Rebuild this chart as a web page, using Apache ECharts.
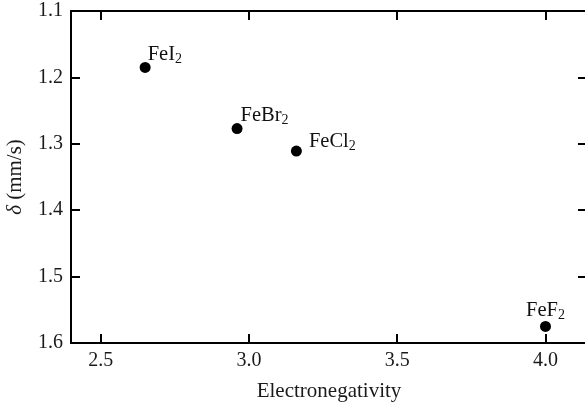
<!DOCTYPE html>
<html><head><meta charset="utf-8">
<script src="https://cdn.jsdelivr.net/npm/echarts@6/dist/echarts.min.js"></script>
<style>html,body{margin:0;padding:0;background:#fff}#c{width:585px;height:410px}</style>
</head><body><div id="c"></div>
<script>
const names = ['FeI', 'FeBr', 'FeCl', 'FeF'];
const electroneg = [2.65, 2.96, 3.16, 4.0];
const delta = [1.185, 1.277, 1.311, 1.575];
const xTicks = [2.5, 3.0, 3.5, 4.0];
const yTicks = [1.1, 1.2, 1.3, 1.4, 1.5, 1.6];

const labelPos = [[8, -19], [9, -19], [18, -15], 'top'];

const font = '"Liberation Serif", "DejaVu Serif", serif';
const chart = echarts.init(document.getElementById('c'));
const axisLine = {show: true, lineStyle: {color: '#000', width: 2}};
const axisTick = {show: true, inside: true, length: 9, lineStyle: {color: '#000', width: 2}};
chart.setOption({
  animation: false,
  grid: {left: 71, top: 11, width: 516, height: 332, containLabel: false, outerBoundsMode: 'none'},
  xAxis: [{
    type: 'value', min: 2.4, max: 4.14, interval: 0.5,
    axisLine, axisTick: Object.assign({customValues: xTicks}, axisTick), splitLine: {show: false},
    axisLabel: {customValues: xTicks, fontFamily: font, fontSize: 20, color: '#1a1a1a', margin: 8, formatter: v => v.toFixed(1)},
    name: 'Electronegativity', nameLocation: 'middle', nameGap: 38,
    nameTextStyle: {fontFamily: font, fontSize: 21, color: '#1a1a1a'}
  }, {
    type: 'value', position: 'top', min: 2.4, max: 4.14,
    axisLine, axisTick: Object.assign({customValues: xTicks}, axisTick), axisLabel: {show: false}, splitLine: {show: false}
  }],
  yAxis: [{
    type: 'value', inverse: true, min: 1.1, max: 1.6, interval: 0.1,
    axisLine, axisTick, splitLine: {show: false},
    axisLabel: {fontFamily: font, fontSize: 20, color: '#1a1a1a', margin: 8, formatter: v => v.toFixed(1)},
    name: '{i|δ} (mm/s)', nameLocation: 'middle', nameGap: 45, nameRotate: 90,
    nameTextStyle: {fontFamily: font, fontSize: 21, color: '#1a1a1a', rich: {i: {fontFamily: font, fontSize: 21, fontStyle: 'italic', color: '#1a1a1a'}}}
  }, {
    type: 'value', position: 'right', inverse: true, min: 1.1, max: 1.6, interval: 0.1,
    axisLine, axisTick, axisLabel: {show: false}, splitLine: {show: false}
  }],
  series: [{
    type: 'scatter', symbol: 'circle', symbolSize: 11,
    itemStyle: {color: '#000', opacity: 1},
    data: electroneg.map((x, i) => ({value: [x, delta[i]], label: {position: labelPos[i]}})),
    label: {
      show: true, distance: -1,
      formatter: p => '{a|' + names[p.dataIndex] + '}{s|2}',
      rich: {
        a: {fontFamily: font, fontSize: 20.5, color: '#111'},
        s: {fontFamily: font, fontSize: 14, color: '#111', padding: [9, 0, 0, 0]}
      }
    }
  }]
});
</script></body></html>
